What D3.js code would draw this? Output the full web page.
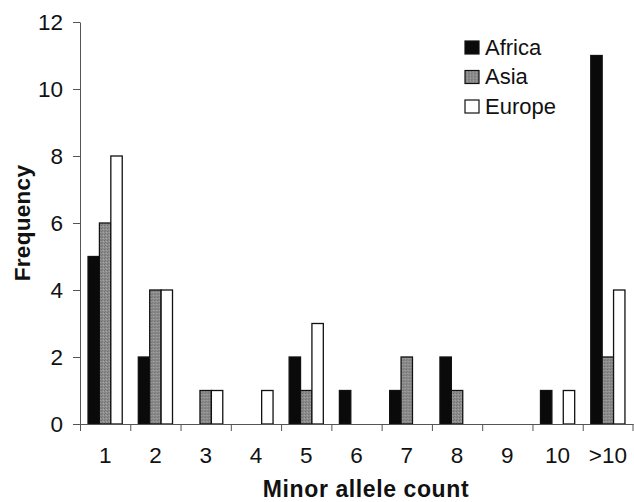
<!DOCTYPE html>
<html>
<head>
<meta charset="utf-8">
<script src="https://cdn.jsdelivr.net/npm/d3@7"></script>
<style>
  body { margin: 0; background: #fff; }
  svg { display: block; font-family: "Liberation Sans", Arial, Helvetica, sans-serif; }
</style>
</head>
<body>
<div class="chart"></div>
<script>
// Minor allele count categories and frequencies per population
const categories = ["1", "2", "3", "4", "5", "6", "7", "8", "9", "10", ">10"];
const series = ["Africa", "Asia", "Europe"];
const africa = [5, 2, 0, 0, 2, 1, 1, 2, 0, 1, 11];
const asia   = [6, 4, 1, 0, 1, 0, 2, 1, 0, 0, 2];
const europe = [8, 4, 1, 1, 3, 0, 0, 0, 0, 1, 4];
const yTicks = [0, 2, 4, 6, 8, 10, 12];

const values = { Africa: africa, Asia: asia, Europe: europe };
const fills = { Africa: "#0a0a0a", Asia: "#8c8c8c", Europe: "#ffffff" };

const width = 634, height = 502;
const margin = { top: 22, right: 1, bottom: 78, left: 80 };

const svg = d3.select(".chart").append("svg")
    .attr("width", width)
    .attr("height", height);

// x: one band per category, bars grouped inside each band
const x0 = d3.scaleBand()
    .domain(categories)
    .range([margin.left, width - margin.right])
    .padding(0);

const x1 = d3.scaleBand()
    .domain(series)
    .range([x0.bandwidth() * 0.16, x0.bandwidth() * 0.84])
    .padding(0);

const y = d3.scaleLinear()
    .domain([0, 12])
    .range([height - margin.bottom, margin.top]);

// stipple pattern for the grey bars
const defs = svg.append("defs");
const pat = defs.append("pattern")
    .attr("id", "grey")
    .attr("width", 3).attr("height", 3)
    .attr("patternUnits", "userSpaceOnUse");
pat.append("rect").attr("width", 3).attr("height", 3).attr("fill", "#8c8c8c");
pat.append("rect").attr("x", 0).attr("y", 0).attr("width", 1).attr("height", 1).attr("fill", "#6e6e6e");
pat.append("rect").attr("x", 2).attr("y", 1).attr("width", 1).attr("height", 1).attr("fill", "#a8a8a8");
pat.append("rect").attr("x", 1).attr("y", 2).attr("width", 1).attr("height", 1).attr("fill", "#7a7a7a");

const fillOf = s => s === "Asia" ? "url(#grey)" : fills[s];

// bars
const rows = categories.map((c, i) => ({ cat: c, vals: series.map(s => ({ key: s, value: values[s][i] })) }));

svg.append("g")
    .selectAll("g")
    .data(rows)
    .join("g")
    .attr("transform", d => `translate(${x0(d.cat)},0)`)
    .selectAll("rect")
    .data(d => d.vals)
    .join("rect")
    .attr("x", d => x1(d.key))
    .attr("y", d => y(d.value))
    .attr("width", x1.bandwidth())
    .attr("height", d => y(0) - y(d.value))
    .attr("fill", d => fillOf(d.key))
    .attr("stroke", "#111")
    .attr("stroke-width", 1.3);

// y axis
const yAxis = svg.append("g")
    .attr("transform", `translate(${margin.left},0)`)
    .call(d3.axisLeft(y).tickValues(yTicks).tickSize(7).tickSizeOuter(0).tickPadding(10));
yAxis.select(".domain").attr("stroke", "#555");
yAxis.selectAll(".tick line").attr("stroke", "#555");
yAxis.selectAll("text")
    .attr("font-size", 22.5)
    .attr("fill", "#111")
    .attr("font-family", "Liberation Sans, Arial, sans-serif");

// x axis: labels centred on each band, ticks on band edges
const xAxis = svg.append("g")
    .attr("transform", `translate(0,${y(0)})`)
    .call(d3.axisBottom(x0).tickSize(0).tickSizeOuter(0).tickPadding(23));
xAxis.select(".domain").attr("stroke", "#555");
xAxis.selectAll("text")
    .attr("font-size", 22.5)
    .attr("fill", "#111")
    .attr("font-family", "Liberation Sans, Arial, sans-serif");

const edges = categories.map(c => x0(c)).concat([x0.range()[1] - 0.5]);
xAxis.selectAll("line.edge")
    .data(edges)
    .join("line")
    .attr("class", "edge")
    .attr("x1", d => d + 0.5).attr("x2", d => d + 0.5)
    .attr("y1", 0).attr("y2", 7)
    .attr("stroke", "#555");

// axis titles
svg.append("text")
    .attr("x", 366)
    .attr("y", 497)
    .attr("text-anchor", "middle")
    .attr("font-size", 23)
    .attr("font-weight", "bold")
    .attr("letter-spacing", 0.6)
    .attr("fill", "#111")
    .text("Minor allele count");

svg.append("text")
    .attr("transform", `translate(30,${(y(0) + y(12)) / 2}) rotate(-90)`)
    .attr("text-anchor", "middle")
    .attr("font-size", 22.5)
    .attr("font-weight", "bold")
    .attr("letter-spacing", 0.3)
    .attr("fill", "#111")
    .text("Frequency");

// legend
const legend = svg.append("g")
    .attr("transform", "translate(465,41)");
const item = legend.selectAll("g")
    .data(series)
    .join("g")
    .attr("transform", (d, i) => `translate(0,${i * 29.5})`);
item.append("rect")
    .attr("width", 14).attr("height", 13)
    .attr("fill", d => fillOf(d))
    .attr("stroke", "#111")
    .attr("stroke-width", 1.2);
item.append("text")
    .attr("x", 20)
    .attr("y", 13.5)
    .attr("font-size", 22)
    .attr("fill", "#111")
    .text(d => d);
</script>
</body>
</html>
